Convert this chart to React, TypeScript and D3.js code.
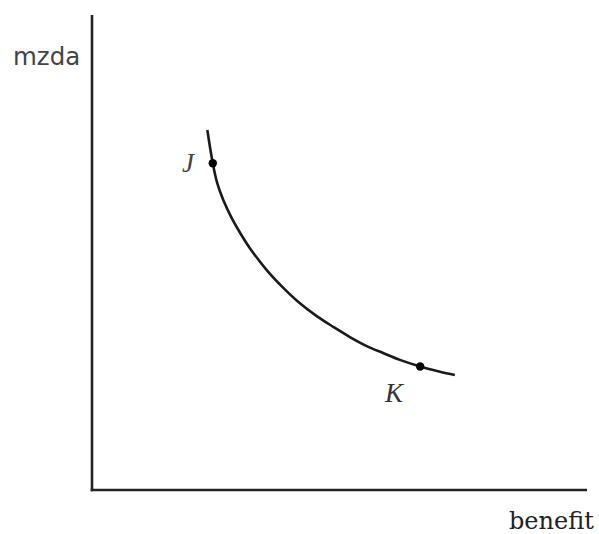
import React from "react";
import * as d3 from "d3";

const curveX = [23.3, 24.4, 25.3, 26.5, 28.1, 30.0, 31.9, 35.3, 38.7, 42.0, 45.4, 48.8, 52.1, 55.5, 58.9, 62.2, 66.3, 70.3, 73.3];
const curveY = [75.8, 68.8, 64.6, 61.1, 57.5, 54.0, 50.9, 46.3, 42.5, 39.3, 36.6, 34.3, 32.2, 30.3, 28.8, 27.4, 26.0, 24.9, 24.2];
const pointNames = ["J", "K"];
const pointX = [24.4, 66.3];
const pointY = [68.8, 26.0];
const axisLabels = ["mzda", "benefit"];

const W = 599;
const H = 534;

export default function App() {
  const x = d3.scaleLinear().domain([0, 100]).range([92, 587]);
  const y = d3.scaleLinear().domain([0, 100]).range([490, 15]);
  const pts: [number, number][] = curveX.map((v, i) => [v, curveY[i]]);
  const line = d3
    .line<[number, number]>()
    .x((d) => x(d[0]))
    .y((d) => y(d[1]))
    .curve(d3.curveCatmullRom.alpha(0.5));
  return (
    <svg
      width={W}
      height={H}
      style={{ position: "absolute", left: 0, top: 0, background: "#fff" }}
    >
      <line x1={x(0)} y1={y(100)} x2={x(0)} y2={y(0) + 1.2} stroke="#222" strokeWidth={2.6} />
      <line x1={x(0) - 1.3} y1={y(0)} x2={x(100)} y2={y(0)} stroke="#222" strokeWidth={2.6} />
      <text x={13} y={65} fontFamily="DejaVu Sans" fontSize={24.5} fill="#444">
        {axisLabels[0]}
      </text>
      <text
        x={509}
        y={529}
        fontFamily="DejaVu Serif"
        fontSize={24}
        fill="#222"
      >
        {axisLabels[1]}
      </text>
      <path d={line(pts) || ""} fill="none" stroke="#1a1a1a" strokeWidth={2.6} />
      {pointNames.map((n, i) => (
        <circle key={n} cx={x(pointX[i])} cy={y(pointY[i])} r={4.2} fill="#000" />
      ))}
      <text x={182} y={172} fontFamily="'Liberation Serif', serif" fontStyle="italic" fontSize={27} fill="#444">
        {pointNames[0]}
      </text>
      <text x={385} y={402} fontFamily="'Liberation Serif', serif" fontStyle="italic" fontSize={27} fill="#333">
        {pointNames[1]}
      </text>
    </svg>
  );
}
